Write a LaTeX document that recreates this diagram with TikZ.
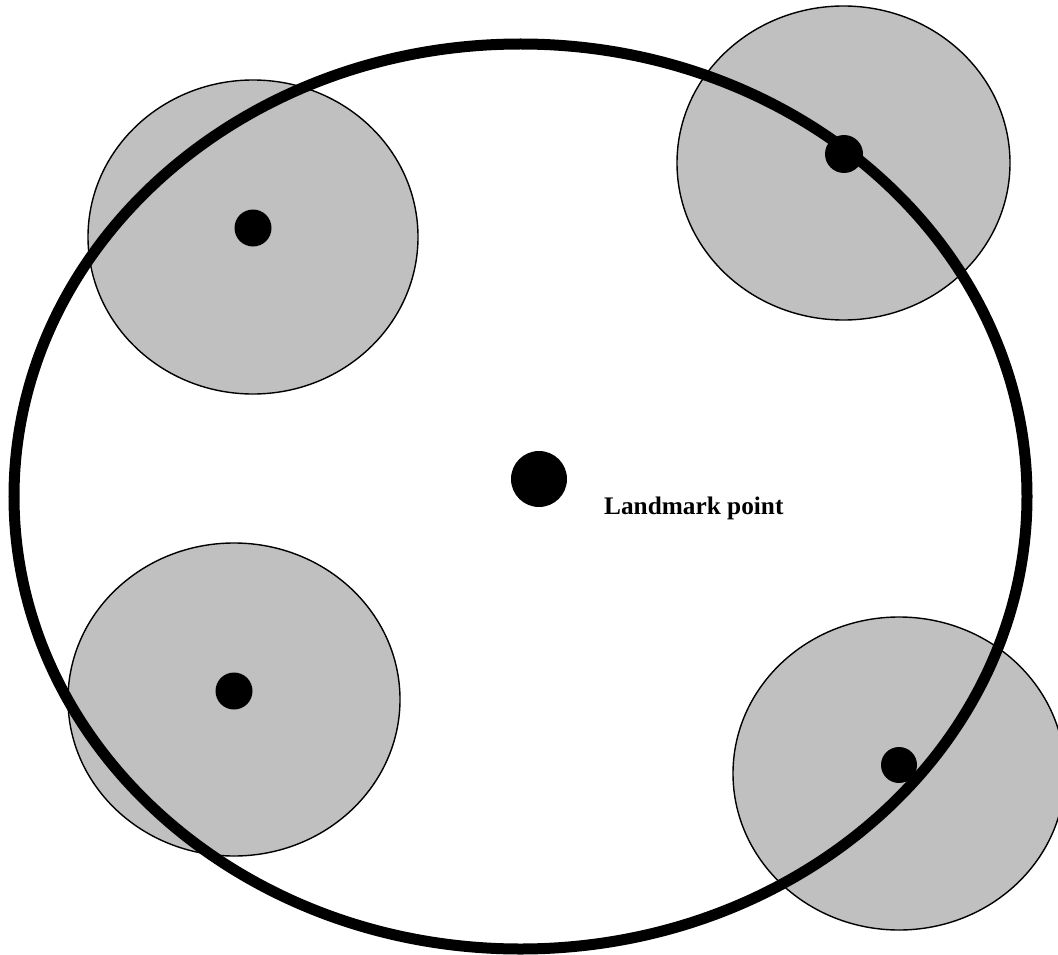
\documentclass[tikz,border=0pt]{standalone}
\usepackage{fontspec}
\setmainfont{Liberation Serif}
\definecolor{zonegray}{RGB}{192,192,192}
\tikzset{
  zone/.style={fill=zonegray,draw=black,line width=1.4pt},
  boundary/.style={draw=black,line width=11pt},
  dotmark/.style={fill=black},
  lbl/.style={font=\fontsize{25.3}{30}\selectfont\bfseries,inner sep=0pt,anchor=base west}
}
\begin{document}
\begin{tikzpicture}[x=1pt,y=-1pt]
\useasboundingbox (0,0) rectangle (1058,955);
\clip (0,0) rectangle (1058,955);
\fill[white] (0,0) rectangle (1058,955);
% gray zones
\draw[zone] (253,237) ellipse [x radius=165, y radius=157];
\draw[zone] (843.5,163) ellipse [x radius=166.5, y radius=157];
\draw[zone] (234,699.5) ellipse [x radius=166, y radius=156.5];
\draw[zone] (899,773.5) ellipse [x radius=166, y radius=156.5];
% big boundary
\draw[boundary] (520.5,496.5) ellipse [x radius=506.5, y radius=452.5];
% dots
\fill[dotmark] (253,228) circle [radius=18.5];
\fill[dotmark] (844,154) circle [radius=19];
\fill[dotmark] (234,691) circle [radius=18.5];
\fill[dotmark] (899,765) circle [radius=18];
\fill[dotmark] (539,479) circle [radius=28];
\coordinate (lm) at (539,479);
\node[lbl] (label) at (604,514) {Landmark point};
\end{tikzpicture}
\end{document}
